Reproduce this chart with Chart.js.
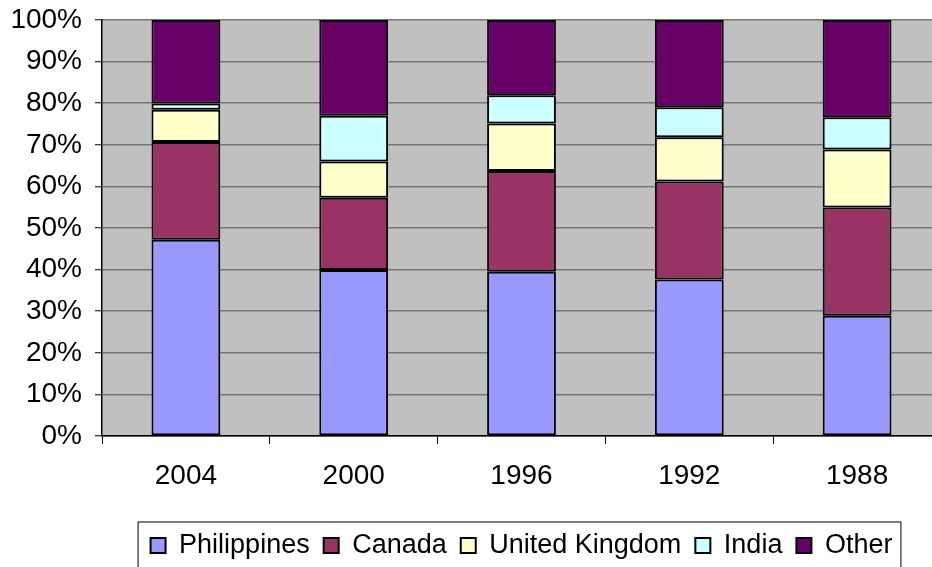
<!DOCTYPE html>
<html>
<head>
<meta charset="utf-8">
<script src="https://cdn.jsdelivr.net/npm/chart.js@4.4.0/dist/chart.umd.min.js"></script>
<style>
  body { margin: 0; background: #fff; overflow: hidden; width: 932px; height: 567px; }
  canvas { display: block; }
</style>
</head>
<body>
<canvas id="grafico" width="960" height="600"></canvas>
<script>
const years = ['2004', '2000', '1996', '1992', '1988']
const philippines = [47.2, 39.9, 39.5, 37.6, 28.9]
const canada = [23.5, 17.4, 24.2, 23.6, 26.0]
const unitedKingdom = [7.7, 8.7, 11.4, 10.6, 14.0]
const india = [1.5, 11.0, 6.8, 7.2, 7.7]
const other = [20.1, 23.0, 18.1, 21.0, 23.4]

const fuente = "'Liberation Sans', Arial, sans-serif"
Chart.defaults.font.family = fuente
Chart.defaults.font.size = 28
Chart.defaults.color = '#000'

const fondoGris = {
    id: 'fondoGris',
    beforeDraw(chart) {
        const { ctx, chartArea: a } = chart
        ctx.save()
        ctx.fillStyle = '#c0c0c0'
        ctx.fillRect(a.left, a.top, a.right - a.left, a.bottom - a.top)
        ctx.restore()
    }
}

const marcoLeyenda = {
    id: 'marcoLeyenda',
    afterDraw(chart) {
        const cajas = chart.legend.legendHitBoxes
        if (!cajas || !cajas.length) return
        const ctx = chart.ctx
        const izq = cajas[0].left - 9
        const ultima = cajas[cajas.length - 1]
        const der = ultima.left + ultima.width + 12
        const arriba = cajas[0].top + cajas[0].height / 2 - 24
        ctx.save()
        ctx.strokeStyle = '#000'
        ctx.lineWidth = 1
        ctx.strokeRect(izq - 3.5, arriba + 0.5, der - izq, 100)
        ctx.restore()
    }
}

const serie = (label, data, color) => ({
    label: label,
    data: data,
    backgroundColor: color,
    borderColor: '#000',
    borderWidth: 2,
    borderSkipped: false,
    categoryPercentage: 1,
    barPercentage: 0.41
})

new Chart(document.querySelector('#grafico'), {
    type: 'bar',
    data: {
        labels: years,
        datasets: [
            serie('Philippines', philippines, '#9999ff'),
            serie('Canada', canada, '#993366'),
            serie('United Kingdom', unitedKingdom, '#ffffcc'),
            serie('India', india, '#ccffff'),
            serie('Other', other, '#660066')
        ]
    },
    options: {
        responsive: false,
        animation: false,
        layout: { padding: { top: 20, right: 19, left: 0, bottom: 31 } },
        plugins: {
            tooltip: { enabled: false },
            legend: {
                position: 'bottom',
                fullSize: false,
                labels: {
                    boxWidth: 15,
                    boxHeight: 15,
                    padding: 14,
                    font: { size: 27 }
                }
            }
        },
        scales: {
            x: {
                stacked: true,
                grid: {
                    offset: true,
                    drawOnChartArea: false,
                    drawTicks: true,
                    tickLength: 8,
                    tickColor: '#000',
                    tickWidth: 1
                },
                border: { color: '#000', width: 1.5 },
                ticks: { padding: 15, maxRotation: 0 },
                afterFit: (scale) => { scale.height = 82 }
            },
            y: {
                stacked: true,
                min: 0,
                max: 100,
                grid: {
                    color: '#777',
                    lineWidth: 1.5,
                    tickLength: 7,
                    tickColor: '#000',
                    tickWidth: 1
                },
                border: { color: '#000', width: 1.5 },
                ticks: {
                    stepSize: 10,
                    padding: 13,
                    callback: (v) => v + '%'
                },
                afterFit: (scale) => {
                    scale.width = 102
                    scale.paddingTop = 0
                    scale.paddingBottom = 0
                }
            }
        }
    },
    plugins: [fondoGris, marcoLeyenda]
})
</script>
</body>
</html>
